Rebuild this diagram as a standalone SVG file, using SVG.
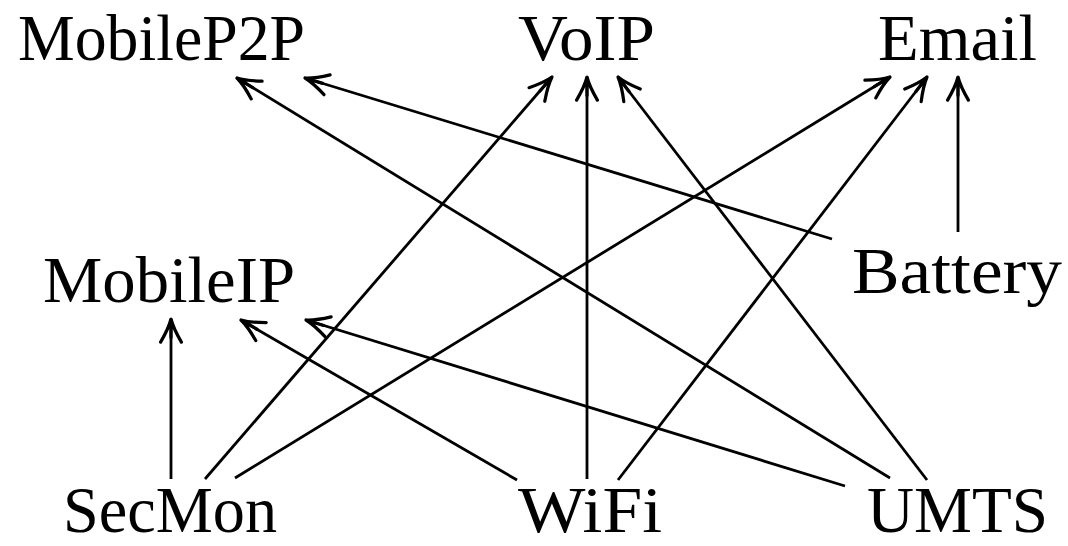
<svg xmlns="http://www.w3.org/2000/svg" width="1068" height="546" viewBox="0 0 1068 546">
<style>
text{font-family:"Liberation Serif","DejaVu Serif",serif;font-size:66px;fill:#000;}
.e line{stroke:#000;stroke-width:2.8;fill:none;marker-end:url(#ah);}
</style>
<defs>
<marker id="ah" markerUnits="userSpaceOnUse" markerWidth="30" markerHeight="30" viewBox="-22 -12 26 24" refX="0" refY="0" orient="auto">
<path d="M -20 -9 Q -8 -2 0 0 Q -8 2 -20 9 M -16 0 L 0 0" fill="none" stroke="#000" stroke-width="2.8" stroke-linecap="round"/>
</marker>
</defs>
<rect width="1068" height="546" fill="#fff"/>
<g class="e" id="edges">
<line x1="171" y1="479" x2="171" y2="319"/>
<line x1="205" y1="479" x2="552" y2="77"/>
<line x1="235" y1="478" x2="890" y2="77"/>
<line x1="517" y1="480" x2="241" y2="320"/>
<line x1="587" y1="479" x2="587" y2="77"/>
<line x1="618" y1="480" x2="927" y2="77"/>
<line x1="845" y1="486" x2="306" y2="320"/>
<line x1="890" y1="478" x2="237" y2="78"/>
<line x1="927" y1="480" x2="618" y2="77"/>
<line x1="832" y1="239" x2="305" y2="78"/>
<line x1="958" y1="232" x2="958" y2="77"/>
</g>
<g id="MobileP2P"><text x="18" y="60" textLength="287" lengthAdjust="spacingAndGlyphs">MobileP2P</text></g>
<g id="VoIP"><text x="518" y="60" textLength="137" lengthAdjust="spacingAndGlyphs">VoIP</text></g>
<g id="Email"><text x="878" y="60" textLength="159" lengthAdjust="spacingAndGlyphs">Email</text></g>
<g id="MobileIP"><text x="43" y="302" textLength="252" lengthAdjust="spacingAndGlyphs">MobileIP</text></g>
<g id="Battery"><text x="852" y="293" textLength="210" lengthAdjust="spacingAndGlyphs">Battery</text></g>
<g id="SecMon"><text x="63" y="532" textLength="214" lengthAdjust="spacingAndGlyphs">SecMon</text></g>
<g id="WiFi"><text x="518" y="532" textLength="144" lengthAdjust="spacingAndGlyphs">WiFi</text></g>
<g id="UMTS"><text x="867" y="532" textLength="181" lengthAdjust="spacingAndGlyphs">UMTS</text></g>
</svg>
